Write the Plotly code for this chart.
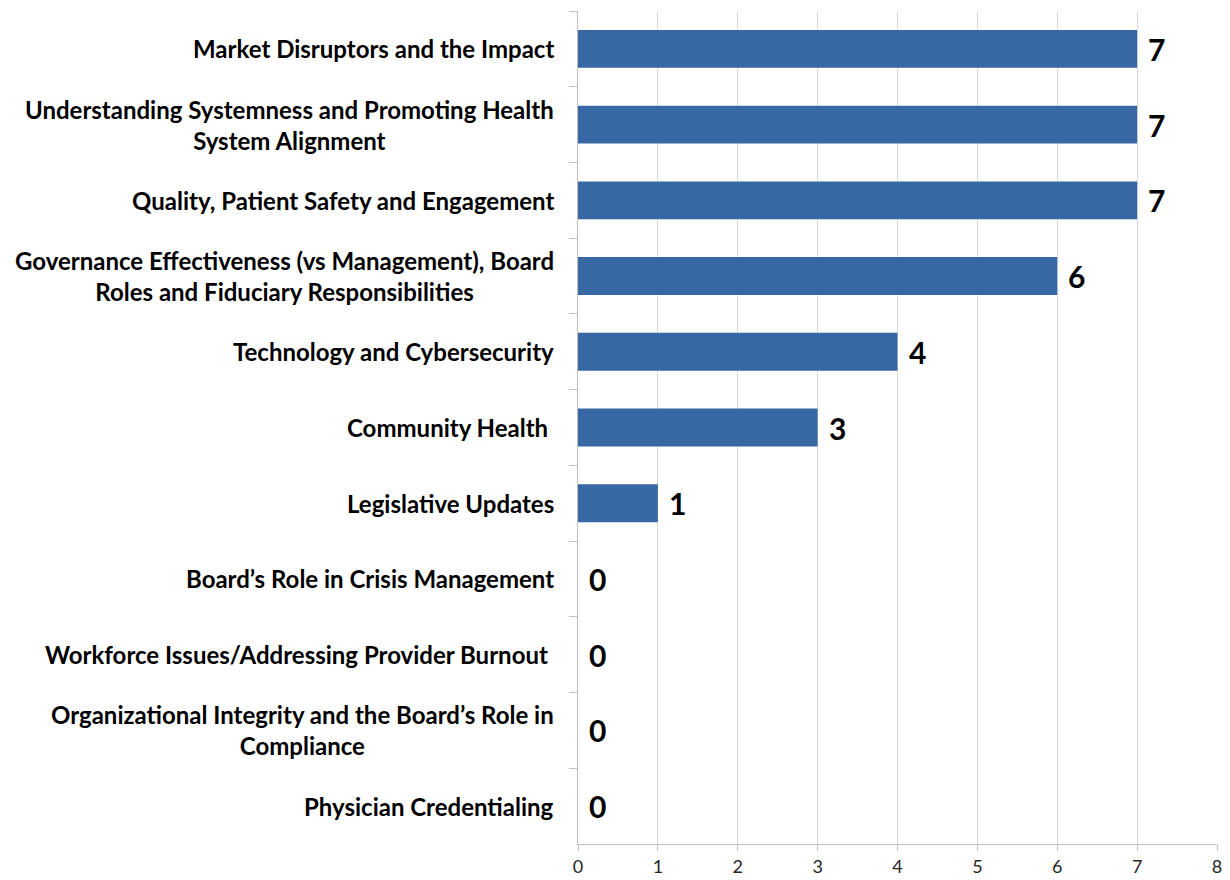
import plotly.graph_objects as go

categories = [
    "Market Disruptors and the Impact",
    "Understanding Systemness and Promoting Health<br>System Alignment",
    "Quality, Patient Safety and Engagement",
    "Governance Effectiveness (vs Management), Board<br>Roles and Fiduciary Responsibilities",
    "Technology and Cybersecurity",
    "Community Health&nbsp;",
    "Legislative Updates",
    "Board\u2019s Role in Crisis Management",
    "Workforce Issues/Addressing Provider Burnout&nbsp;",
    "Organizational Integrity and the Board\u2019s Role in<br>Compliance",
    "Physician Credentialing",
]
values = [7, 7, 7, 6, 4, 3, 1, 0, 0, 0, 0]
x_ticks = [0, 1, 2, 3, 4, 5, 6, 7, 8]

FONT = "Lato, Open Sans, sans-serif"
ids = [f"c{i}" for i in range(len(categories))]

fig = go.Figure()
fig.add_trace(go.Bar(
    x=values, y=ids, orientation="h",
    marker=dict(color="#3768A3", line=dict(width=0)),
    width=0.5, hoverinfo="x",
))

for cid, lab, v in zip(ids, categories, values):
    fig.add_annotation(
        x=0, xref="paper", y=cid, yref="y", text=f"<b>{lab}</b>",
        xanchor="right", yanchor="middle", xshift=-22, align="center",
        showarrow=False,
        font=dict(family=FONT, size=24, color="#000000"),
    )
    fig.add_annotation(
        x=v, xref="x", y=cid, yref="y", text=f"<b>{v}</b>",
        xanchor="left", yanchor="middle", xshift=9, showarrow=False,
        font=dict(family=FONT, size=30, color="#000000"),
    )

fig.update_layout(
    width=1216, height=872,
    margin=dict(l=570, r=2, t=3, b=36),
    plot_bgcolor="white", paper_bgcolor="white",
    showlegend=False, bargap=0.5,
)
fig.update_xaxes(
    range=[0, 8], tickvals=x_ticks, ticktext=[str(t) for t in x_ticks],
    showgrid=True, gridcolor="#D9D9D9", gridwidth=1,
    showline=True, linecolor="#BFBFBF", linewidth=1,
    ticks="outside", ticklen=6, tickcolor="#BFBFBF",
    tickfont=dict(family=FONT, size=18, color="#262626"),
    ticklabeloverflow="allow",
    zeroline=False, fixedrange=True,
)
fig.update_yaxes(
    categoryorder="array", categoryarray=ids, autorange="reversed",
    showticklabels=False, showgrid=False,
    showline=True, linecolor="#BFBFBF", linewidth=1,
    ticks="outside", ticklen=8, tickcolor="#BFBFBF", tickson="boundaries",
    fixedrange=True,
)

fig.write_html("out.html")
